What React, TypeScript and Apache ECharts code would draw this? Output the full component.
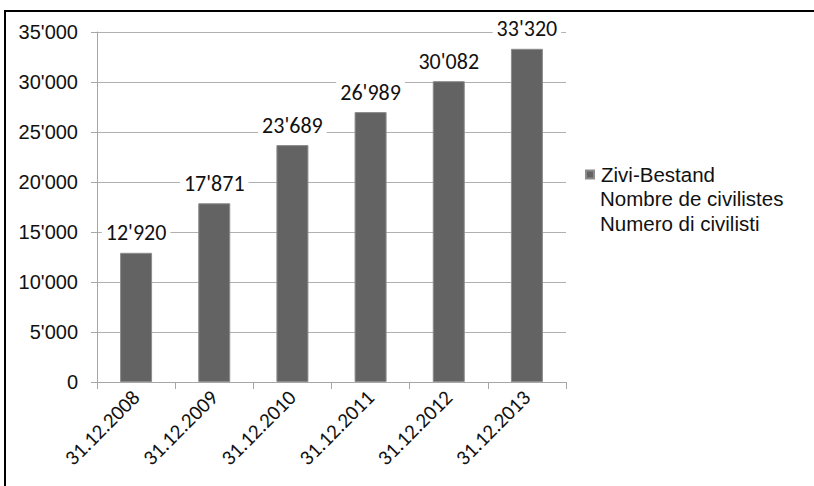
import React, { useEffect, useRef } from "react";
import * as echarts from "echarts";

const categories = ["31.12.2008", "31.12.2009", "31.12.2010", "31.12.2011", "31.12.2012", "31.12.2013"];
const values = [12920, 17871, 23689, 26989, 30082, 33320];
const seriesName = "Zivi-Bestand";
const legendExtraLines = ["Nombre de civilistes", "Numero di civilisti"];
const yMax = 35000;
const yInterval = 5000;

const fmt = (v: number) => {
  const s = String(Math.round(v));
  return s.replace(/\B(?=(\d{3})+(?!\d))/g, "'");
};

export default function App() {
  const ref = useRef<HTMLDivElement>(null);
  useEffect(() => {
    if (!ref.current) return;
    document.body.style.margin = "0";
    const chart = echarts.init(ref.current, null, { renderer: "svg" });
    chart.setOption({
      animation: false,
      backgroundColor: "#ffffff",
      grid: { left: 97, right: 248, top: 32, bottom: 104 },
      legend: {
        show: true,
        left: 585,
        top: 164,
        padding: 0,
        orient: "vertical",
        icon: "rect",
        itemWidth: 8,
        itemHeight: 8,
        itemGap: 4,
        textStyle: { fontFamily: "Liberation Sans, Arial", fontSize: 20.5, lineHeight: 21, color: "#111", padding: [0, 0, 0, 2] },
        data: [seriesName],
      },
      graphic: [
        {
          type: "rect",
          shape: { x: 5, y: 11, width: 820, height: 490 },
          style: { fill: "none", stroke: "#000", lineWidth: 2 },
          silent: true,
          z: 100,
        },
        ...legendExtraLines.map((t, i) => ({
          type: "text",
          left: 600,
          top: 188 + i * 24.5,
          style: { text: t, fontFamily: "Liberation Sans, Arial", fontSize: 20.5, lineHeight: 21, fill: "#111" },
        })),
      ],
      xAxis: {
        type: "category",
        data: categories,
        axisLine: { lineStyle: { color: "#a6a6a6", width: 1 } },
        axisTick: { show: true, length: 7, alignWithLabel: false, lineStyle: { color: "#a6a6a6" } },
        axisLabel: {
          rotate: 45,
          interval: 0,
          margin: 12,
          fontFamily: "Carlito, Lato, sans-serif",
          fontSize: 21,
          color: "#111",
        },
      },
      yAxis: {
        type: "value",
        min: 0,
        max: yMax,
        interval: yInterval,
        axisLine: { show: true, lineStyle: { color: "#a6a6a6" } },
        axisTick: { show: true, length: 6, lineStyle: { color: "#a6a6a6" } },
        splitLine: { lineStyle: { color: "#b0b0b0" } },
        axisLabel: {
          margin: 19,
          fontFamily: "Liberation Sans, Arial",
          fontSize: 20,
          color: "#111",
          formatter: (v: number) => fmt(v),
        },
      },
      series: [
        {
          name: seriesName,
          type: "bar",
          data: values,
          barWidth: 32,
          itemStyle: { color: "#636363", borderColor: "#8c8c8c", borderWidth: 1 },
          label: {
            show: true,
            position: "top",
            distance: 9,
            fontFamily: "Carlito, Lato, sans-serif",
            fontSize: 22,
            color: "#111",
            backgroundColor: "#ffffff",
            padding: [0, 4],
            formatter: (p: any) => fmt(p.value),
          },
        },
      ],
    });
    return () => chart.dispose();
  }, []);
  return <div ref={ref} style={{ width: 814, height: 486 }} />;
}
